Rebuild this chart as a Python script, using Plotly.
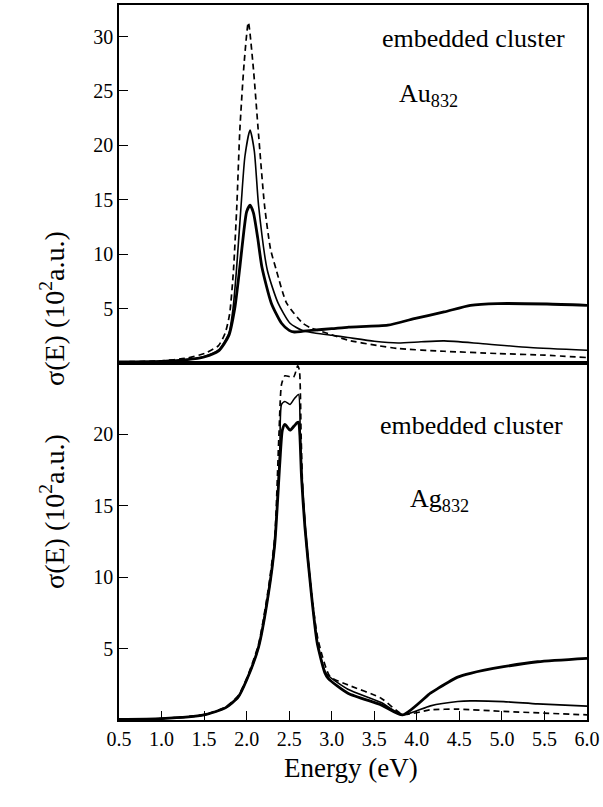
import plotly.graph_objects as go

# ---------------- Au832 (top panel) ----------------
au_thick_E = [0.5, 1.0, 1.3, 1.5, 1.67, 1.79, 1.86, 1.92, 1.97, 2.0, 2.04, 2.08, 2.13, 2.18, 2.29, 2.41, 2.5, 2.56, 2.65, 2.76, 3.0, 3.2, 3.66, 3.97, 4.32, 4.63, 4.95, 5.53, 6.0]
au_thick_s = [0.1, 0.15, 0.3, 0.55, 1.1, 2.5, 5.0, 8.8, 12.3, 13.9, 14.5, 13.8, 11.5, 8.8, 5.5, 3.65, 3.0, 2.85, 2.9, 3.0, 3.15, 3.3, 3.47, 4.08, 4.69, 5.3, 5.46, 5.42, 5.3]

au_thin_E = [0.5, 1.0, 1.3, 1.5, 1.67, 1.79, 1.84, 1.88, 1.935, 1.98, 2.04, 2.09, 2.14, 2.244, 2.37, 2.51, 2.65, 2.76, 3.0, 3.19, 3.5, 3.78, 4.05, 4.32, 4.75, 5.33, 6.0]
au_thin_s = [0.1, 0.15, 0.3, 0.6, 1.2, 2.7, 5.0, 8.5, 14.5, 19.0, 21.4, 19.5, 14.5, 8.5, 5.5, 3.65, 3.0, 2.8, 2.55, 2.34, 2.0, 1.84, 1.95, 2.03, 1.79, 1.42, 1.17]

au_dash_E = [0.5, 1.0, 1.3, 1.51, 1.67, 1.75, 1.80, 1.845, 1.885, 1.92, 1.97, 2.02, 2.08, 2.14, 2.21, 2.28, 2.35, 2.47, 2.66, 2.76, 2.96, 3.19, 3.54, 3.78, 4.32, 4.95, 5.5, 6.0]
au_dash_s = [0.1, 0.2, 0.45, 0.9, 1.6, 2.8, 4.5, 8.5, 14.5, 21.4, 27.5, 31.3, 27.0, 21.0, 14.5, 10.5, 8.5, 5.5, 3.65, 3.2, 2.7, 2.1, 1.6, 1.33, 1.08, 0.87, 0.72, 0.5]

# ---------------- Ag832 (bottom panel) ----------------
ag_thick_E = [0.5, 1.0, 1.5, 1.75, 1.9, 2.0, 2.14, 2.255, 2.33, 2.39, 2.42, 2.45, 2.51, 2.56, 2.59, 2.61, 2.625, 2.645, 2.685, 2.76, 2.83, 2.92, 2.96, 3.19, 3.58, 3.835, 4.16, 4.245, 4.48, 4.63, 5.02, 5.42, 6.0]
ag_thick_s = [0.05, 0.1, 0.36, 0.85, 1.6, 2.8, 5.1, 8.8, 12.3, 18.0, 20.3, 20.7, 20.3, 20.6, 20.8, 20.86, 20.0, 17.0, 13.5, 8.86, 5.37, 3.3, 2.9, 1.88, 1.06, 0.36, 1.88, 2.2, 3.0, 3.27, 3.73, 4.08, 4.32]

ag_thin_E = [0.5, 1.0, 1.5, 1.75, 1.9, 2.0, 2.14, 2.255, 2.33, 2.39, 2.41, 2.45, 2.51, 2.56, 2.61, 2.63, 2.65, 2.69, 2.76, 2.83, 2.92, 2.96, 3.19, 3.58, 3.835, 4.16, 4.48, 4.63, 5.02, 5.42, 6.0]
ag_thin_s = [0.05, 0.1, 0.36, 0.85, 1.6, 2.8, 5.1, 8.8, 12.3, 19.0, 22.1, 22.3, 22.1, 22.5, 22.8, 20.0, 17.0, 13.5, 8.9, 5.4, 3.4, 3.1, 2.15, 1.22, 0.36, 0.99, 1.29, 1.34, 1.29, 1.13, 0.97]

ag_dash_E = [0.5, 1.0, 1.5, 1.75, 1.9, 2.0, 2.14, 2.25, 2.33, 2.38, 2.41, 2.45, 2.55, 2.6, 2.62, 2.64, 2.66, 2.7, 2.77, 2.84, 2.98, 3.19, 3.58, 3.835, 4.16, 4.48, 5.02, 6.0]
ag_dash_s = [0.05, 0.1, 0.38, 0.9, 1.7, 2.9, 5.3, 9.0, 12.8, 20.0, 23.5, 24.1, 24.0, 24.8, 24.5, 20.0, 16.0, 12.5, 8.5, 5.6, 3.04, 2.46, 1.53, 0.4, 0.71, 0.76, 0.6, 0.36]

top_ticks = [5, 10, 15, 20, 25, 30]
bot_ticks = [5, 10, 15, 20]
x_ticks = [0.5, 1.0, 1.5, 2.0, 2.5, 3.0, 3.5, 4.0, 4.5, 5.0, 5.5, 6.0]
x_tick_text = ["0.5", "1.0", "1.5", "2.0", "2.5", "3.0", "3.5", "4.0", "4.5", "5.0", "5.5", "6.0"]

FONT = "'Times New Roman', 'Liberation Serif', 'DejaVu Serif', serif"
BLACK = "#000000"

fig = go.Figure()

def add(E, s, xa, ya, width, dash=None):
    fig.add_trace(go.Scatter(
        x=E, y=s, xaxis=xa, yaxis=ya, mode="lines",
        line=dict(color=BLACK, width=width, dash=dash, shape="spline", smoothing=0.6),
        showlegend=False, hoverinfo="skip"))

add(au_thick_E, au_thick_s, "x2", "y2", 2.8)
add(au_thin_E, au_thin_s, "x2", "y2", 1.6)
add(au_dash_E, au_dash_s, "x2", "y2", 1.7, "6px,4px")
add(ag_thick_E, ag_thick_s, "x", "y", 2.8)
add(ag_thin_E, ag_thin_s, "x", "y", 1.6)
add(ag_dash_E, ag_dash_s, "x", "y", 1.7, "6px,4px")

split = (720 - 362) / 717.0

axis_common = dict(showline=True, linecolor=BLACK, linewidth=1.6, mirror=True,
                   showgrid=False, zeroline=False, ticks="inside", ticklen=9,
                   tickwidth=1.2, tickcolor=BLACK,
                   tickfont=dict(family=FONT, size=20, color=BLACK))

fig.update_layout(
    width=603, height=807,
    margin=dict(l=119, r=13, t=3, b=87),
    paper_bgcolor="white", plot_bgcolor="white",
    font=dict(family=FONT, color=BLACK),
    xaxis=dict(domain=[0, 1], range=[0.5, 6.0], anchor="y",
               tickvals=x_ticks, ticktext=x_tick_text, **axis_common),
    yaxis=dict(domain=[0, split], range=[0, 25], anchor="x",
               tickvals=bot_ticks, **axis_common),
    xaxis2=dict(domain=[0, 1], range=[0.5, 6.0], anchor="y2", matches="x",
                showticklabels=False, **{k: v for k, v in axis_common.items() if k != "ticks"}, ticks=""),
    yaxis2=dict(domain=[split, 1], range=[0, 32.9], anchor="x2",
                tickvals=top_ticks, **axis_common),
)

ann_font = dict(family=FONT, size=26, color=BLACK)
fig.add_annotation(x=4.67, y=29.8, xref="x2", yref="y2", text="embedded cluster",
                   showarrow=False, font=ann_font)
fig.add_annotation(x=4.14, y=24.6, xref="x2", yref="y2", text="Au<sub>832</sub>",
                   showarrow=False, font=ann_font)
fig.add_annotation(x=4.64, y=20.6, xref="x", yref="y", text="embedded cluster",
                   showarrow=False, font=ann_font)
fig.add_annotation(x=4.27, y=15.4, xref="x", yref="y", text="Ag<sub>832</sub>",
                   showarrow=False, font=ann_font)

ytitle = "\u03c3(E) (10<sup>2</sup>a.u.)"
title_font = dict(family=FONT, size=28, color=BLACK)
fig.add_annotation(x=33, y=228, xref="paper", yref="paper", text=ytitle,
                   showarrow=False, textangle=-90, font=title_font)
fig.add_annotation(x=33, y=591, xref="paper", yref="paper", text=ytitle,
                   showarrow=False, textangle=-90, font=title_font)
fig.add_annotation(x=352, y=785, xref="paper", yref="paper", text="Energy (eV)",
                   showarrow=False, font=dict(family=FONT, size=27, color=BLACK))

# convert pixel positions for the paper-referenced titles
pw, ph = 603 - 119 - 13, 807 - 3 - 87
for a in fig.layout.annotations:
    if a.xref == "paper":
        a.x = (a.x - 119) / pw
        a.y = (807 - 87 - a.y) / ph

fig.write_html("out.html", config={"displayModeBar": False},
               post_script="document.body.style.margin='0px';")
